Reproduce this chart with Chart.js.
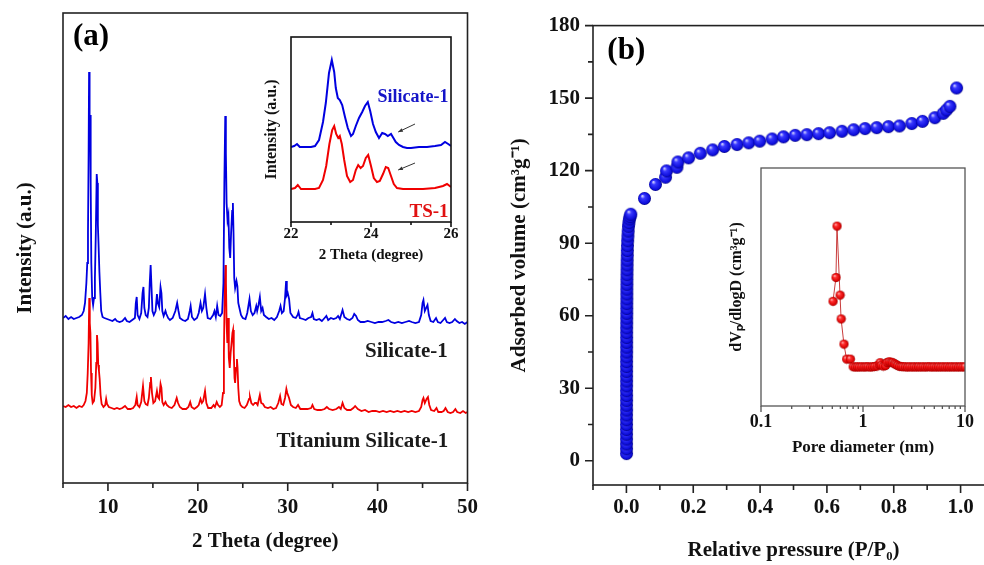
<!DOCTYPE html>
<html><head><meta charset="utf-8">
<script src="https://cdn.jsdelivr.net/npm/chart.js@4.4.1/dist/chart.umd.min.js"></script>
<style>
html,body{margin:0;padding:0;background:#fff;overflow:hidden;width:984px;height:565px;position:relative;}
.box{position:absolute;}
canvas{display:block;}
</style></head><body>
<div class="box" style="left:0;top:0;width:490px;height:565px"><canvas id="cA" width="490" height="565"></canvas></div>
<div class="box" style="left:250px;top:20px;width:230px;height:250px"><canvas id="cAi" width="230" height="250"></canvas></div>
<div class="box" style="left:490px;top:0;width:520px;height:565px"><canvas id="cB" width="520" height="565"></canvas></div>
<div class="box" style="left:700px;top:150px;width:284px;height:315px"><canvas id="cBi" width="284" height="315"></canvas></div>
<script>
// ---------------- DATA ----------------
// Panel (a): XRD patterns [2theta, intensity (arb.)]
const silicaliteXRD = [[5.0,165],[5.3,167],[5.6,164],[5.9,166],[6.2,164],[6.5,165],[6.8,166],[7.1,168],[7.3,172],[7.45,180],[7.6,200],[7.7,220],[7.78,250],[7.85,330],[7.9,411],[7.96,360],[8.02,368],[8.08,300],[8.15,220],[8.25,185],[8.35,178],[8.45,185],[8.55,205],[8.65,250],[8.75,309],[8.82,300],[8.88,258],[8.95,240],[9.05,211],[9.15,190],[9.25,172],[9.4,166],[9.6,165],[9.9,164],[10.2,163],[10.5,162],[10.8,164],[11.0,162],[11.3,161],[11.6,162],[11.9,165],[12.1,162],[12.4,161],[12.7,163],[13.0,165],[13.1,180],[13.2,186],[13.3,168],[13.5,164],[13.7,170],[13.85,190],[13.95,196],[14.05,175],[14.2,168],[14.4,166],[14.55,175],[14.65,200],[14.75,218],[14.85,195],[14.95,172],[15.1,168],[15.3,172],[15.45,189],[15.55,180],[15.7,176],[15.85,196],[15.95,190],[16.05,172],[16.2,167],[16.4,172],[16.5,169],[16.7,165],[16.9,163],[17.2,165],[17.5,172],[17.7,180],[17.85,172],[18.0,165],[18.3,163],[18.6,162],[18.9,164],[19.1,172],[19.2,177],[19.35,166],[19.6,163],[19.9,165],[20.1,170],[20.3,180],[20.45,172],[20.6,175],[20.8,189],[20.95,175],[21.1,165],[21.4,164],[21.7,168],[21.85,172],[22.0,166],[22.15,177],[22.3,168],[22.5,167],[22.7,170],[22.85,200],[22.95,300],[23.05,367],[23.12,330],[23.2,280],[23.3,263],[23.4,268],[23.5,235],[23.6,225],[23.7,250],[23.82,272],[23.9,280],[23.97,250],[24.05,205],[24.15,195],[24.3,202],[24.4,197],[24.5,180],[24.6,176],[24.8,168],[25.0,165],[25.3,164],[25.5,170],[25.75,184],[25.9,172],[26.1,168],[26.3,170],[26.5,177],[26.6,172],[26.75,178],[26.9,186],[27.05,172],[27.2,175],[27.35,168],[27.6,166],[27.9,164],[28.2,165],[28.5,163],[28.8,166],[29.05,172],[29.2,177],[29.35,170],[29.55,172],[29.7,185],[29.82,202],[29.9,188],[30.0,190],[30.15,184],[30.3,170],[30.6,166],[30.9,165],[31.1,168],[31.2,171],[31.35,165],[31.7,164],[32.0,163],[32.3,165],[32.6,166],[32.75,170],[32.9,164],[33.2,163],[33.5,164],[33.8,162],[34.1,165],[34.3,167],[34.5,163],[34.8,165],[35.1,164],[35.4,165],[35.6,167],[35.8,164],[36.0,170],[36.1,173],[36.3,166],[36.6,164],[36.9,163],[37.2,165],[37.4,169],[37.6,167],[37.8,163],[38.1,161],[38.5,161],[38.9,162],[39.3,161],[39.7,160],[40.1,161],[40.5,161],[40.9,162],[41.2,163],[41.5,161],[41.9,160],[42.3,161],[42.7,160],[43.1,161],[43.5,162],[43.8,161],[44.2,160],[44.6,161],[44.85,168],[45.0,180],[45.1,183],[45.25,172],[45.4,175],[45.55,178],[45.7,168],[45.9,162],[46.2,161],[46.5,165],[46.7,161],[47.0,160],[47.3,163],[47.5,165],[47.7,161],[48.0,160],[48.3,161],[48.6,164],[48.8,162],[49.1,160],[49.4,161],[49.7,159],[50.0,161]];
const ts1XRD = [[5.0,77],[5.3,76],[5.6,78],[5.9,76],[6.2,77],[6.5,75],[6.8,77],[7.1,76],[7.3,78],[7.5,82],[7.65,90],[7.75,110],[7.85,140],[7.92,185],[7.98,160],[8.05,150],[8.12,110],[8.2,88],[8.3,80],[8.45,82],[8.6,95],[8.7,120],[8.78,148],[8.85,140],[8.92,118],[9.0,112],[9.08,104],[9.18,88],[9.3,79],[9.5,76],[9.7,78],[9.8,84],[9.9,79],[10.1,76],[10.4,75],[10.7,74],[11.0,75],[11.3,74],[11.6,75],[11.9,77],[12.2,74],[12.5,74],[12.8,75],[13.05,78],[13.2,86],[13.3,78],[13.5,76],[13.7,81],[13.9,97],[14.05,82],[14.2,79],[14.4,78],[14.55,85],[14.7,100],[14.78,106],[14.9,90],[15.05,80],[15.25,82],[15.45,92],[15.55,86],[15.7,84],[15.85,99],[15.95,95],[16.05,81],[16.2,78],[16.4,81],[16.55,78],[16.8,76],[17.1,75],[17.4,78],[17.65,85],[17.8,80],[18.0,76],[18.3,74],[18.7,74],[18.95,76],[19.15,81],[19.3,76],[19.6,74],[19.9,76],[20.1,78],[20.3,84],[20.45,80],[20.6,82],[20.8,92],[20.95,80],[21.15,75],[21.5,75],[21.75,78],[21.9,76],[22.1,81],[22.25,78],[22.45,76],[22.65,78],[22.8,90],[22.9,130],[23.0,200],[23.07,218],[23.13,200],[23.2,160],[23.28,140],[23.36,165],[23.45,125],[23.55,115],[23.65,130],[23.75,140],[23.85,150],[23.92,153],[24.0,130],[24.08,105],[24.15,100],[24.25,115],[24.35,124],[24.42,115],[24.5,95],[24.6,82],[24.75,78],[24.95,76],[25.2,75],[25.45,78],[25.7,84],[25.8,86],[25.95,80],[26.15,78],[26.35,80],[26.5,80],[26.65,78],[26.8,84],[26.9,88],[27.05,80],[27.25,79],[27.45,76],[27.8,75],[28.1,76],[28.4,74],[28.7,75],[28.95,80],[29.15,87],[29.3,79],[29.5,78],[29.7,85],[29.85,94],[29.95,90],[30.15,85],[30.35,78],[30.6,76],[30.9,75],[31.15,78],[31.4,74],[31.8,74],[32.2,74],[32.6,75],[32.75,78],[32.95,74],[33.3,73],[33.7,73],[34.1,74],[34.35,76],[34.6,74],[35.0,73],[35.4,74],[35.7,76],[35.9,74],[36.1,80],[36.3,75],[36.6,73],[37.0,73],[37.3,75],[37.5,77],[37.8,74],[38.2,72],[38.6,73],[39.0,71],[39.4,72],[39.8,72],[40.2,71],[40.6,72],[41.0,71],[41.4,72],[41.8,71],[42.2,72],[42.6,71],[43.0,72],[43.4,71],[43.8,72],[44.2,71],[44.6,72],[44.85,76],[45.0,83],[45.1,85],[45.25,80],[45.45,84],[45.6,86],[45.75,78],[45.95,73],[46.3,72],[46.55,75],[46.75,71],[47.1,71],[47.35,72],[47.55,75],[47.8,71],[48.1,70],[48.4,71],[48.65,74],[48.85,71],[49.2,70],[49.5,72],[49.8,70],[50.0,71]];
const xTicksA = [10,20,30,40,50];
const xMinorA = [5,15,25,35,45];

// Inset of (a): 22-26 degree zoom
const silicaliteZoom = [[22.0,75],[22.08,76],[22.15,78],[22.22,75],[22.3,75],[22.4,75],[22.5,75],[22.6,76],[22.7,82],[22.8,100],[22.87,119],[22.95,149],[23.02,162],[23.08,150],[23.12,134],[23.17,124],[23.22,122],[23.28,117],[23.35,105],[23.42,94],[23.5,86],[23.55,88],[23.62,96],[23.7,104],[23.78,110],[23.85,116],[23.92,120],[23.98,111],[24.05,98],[24.12,90],[24.2,84],[24.28,89],[24.35,88],[24.42,86],[24.5,88],[24.56,84],[24.62,80],[24.7,77],[24.8,75],[24.9,74],[25.0,74],[25.2,75],[25.4,75],[25.6,76],[25.75,77],[25.85,80],[25.93,78],[26.0,76]];
const ts1Zoom = [[22.0,33],[22.1,34],[22.17,37],[22.25,33],[22.4,33],[22.6,33],[22.7,34],[22.8,42],[22.88,56],[22.96,78],[23.03,92],[23.08,96],[23.13,88],[23.18,84],[23.22,86],[23.27,78],[23.33,62],[23.4,46],[23.48,40],[23.55,42],[23.62,52],[23.68,57],[23.74,54],[23.8,56],[23.87,64],[23.93,67],[24.0,56],[24.07,44],[24.15,40],[24.22,41],[24.3,48],[24.37,55],[24.43,54],[24.5,46],[24.57,38],[24.65,34],[24.8,33],[25.0,33],[25.3,33],[25.6,34],[25.8,36],[25.9,38],[26.0,35]];
const xTicksAi = [22,24,26];
const xMinorAi = [23,25];

// Panel (b): N2 isotherm [P/P0, adsorbed volume cm3/g]
const isoP = [0.0003,0.0003,0.0004,0.0003,0.0004,0.0004,0.0003,0.0004,0.0004,0.0005,0.0004,0.0005,0.0005,0.0004,0.0005,0.0005,0.0006,0.0005,0.0006,0.0006,0.0006,0.0007,0.0007,0.0007,0.0008,0.0008,0.0008,0.0009,0.0009,0.001,0.001,0.0011,0.0012,0.0012,0.0013,0.0014,0.0015,0.0016,0.0018,0.002,0.0022,0.0025,0.0028,0.0032,0.0037,0.0044,0.0052,0.0062,0.0075,0.009,0.011,0.013,
  0.054,0.087,0.117,0.120,0.151,0.154,0.186,0.221,0.258,0.293,0.331,0.366,0.399,0.436,0.470,0.505,0.540,0.575,0.608,0.645,0.680,0.714,0.749,0.784,0.817,0.854,0.886,0.923,0.948,0.958,0.968,0.988];
const isoV = [3,5,7,9,11,13,15,17,19,21,23,25,27,29,31,33,35,37,39,41,43,45,47,49,51,53,55,57,59,61,63,65,67,69,71,73,75,77,79,81,83,85,87,89,91,93,95,97,98.5,100,101,102,
  108.5,114.3,117.3,119.9,121.4,123.6,125.3,127.2,128.6,130.0,130.8,131.5,132.2,133.1,134.0,134.6,134.9,135.3,135.7,136.3,136.9,137.4,137.8,138.2,138.5,139.5,140.4,141.9,143.7,145.1,146.6,154.2];
const xTicksB = [0,0.2,0.4,0.6,0.8,1.0];
const xTickLabelsB = ['0.0','0.2','0.4','0.6','0.8','1.0'];
const xMinorB = [-0.1,0.1,0.3,0.5,0.7,0.9,1.1];
const yTicksB = [0,30,60,90,120,150,180];
const yTickLabelsB = ['0','30','60','90','120','150','180'];
const yMinorB = [15,45,75,105,135,165];

// Inset of (b): pore size distribution [pore diameter nm, dVp/dlogD arb.]
const poreD = [0.508,0.543,0.556,0.595,0.61,0.65,0.69,0.75,0.80,0.84,0.88,0.92,0.97,1.02,1.07,1.12,1.18,1.24,1.30,1.37,1.44,1.47,1.51,1.58,1.66,1.72,1.80,1.88,1.95,2.03,2.10,2.18,2.27,2.37,2.47,2.60,2.73,2.87,3.02,3.17,3.33,3.50,3.68,3.87,4.07,4.28,4.50,4.73,4.97,5.22,5.49,5.77,6.07,6.38,6.70,7.05,7.41,7.79,8.19,8.61,9.05,9.51,10.0];
const poreV = [44,54,75.6,46.6,36.6,26,19.7,19.7,16.5,16.4,16.5,16.4,16.5,16.4,16.5,16.5,16.4,16.5,16.6,16.8,17.4,18.2,17.2,16.8,17.0,18.3,18.6,18.4,18.2,17.8,17.4,17.0,16.7,16.6,16.5,16.5,16.4,16.5,16.4,16.5,16.4,16.5,16.4,16.5,16.4,16.5,16.5,16.4,16.5,16.4,16.5,16.4,16.5,16.4,16.5,16.4,16.5,16.4,16.5,16.4,16.5,16.4,16.5];
const xTicksBi = [0.1,1,10];
const xTickLabelsBi = ['0.1','1','10'];
const xMinorBi = [0.2,0.3,0.4,0.5,0.6,0.7,0.8,0.9,2,3,4,5,6,7,8,9];

// ---------------- HELPERS ----------------
const FF = '"Liberation Serif","Times New Roman",serif';
const font = (s)=>({family:FF, size:s, weight:'bold'});
const INK = '#111';

function sphere(r, c0, c1, c2, c3){
  const s = 2*r+2, cv = document.createElement('canvas');
  cv.width = cv.height = s;
  const g = cv.getContext('2d'), c = s/2;
  const gr = g.createRadialGradient(c-r*0.35, c-r*0.4, r*0.05, c, c, r);
  gr.addColorStop(0,c0); gr.addColorStop(0.3,c1); gr.addColorStop(0.85,c2); gr.addColorStop(1,c3);
  g.fillStyle = gr; g.beginPath(); g.arc(c,c,r,0,Math.PI*2); g.fill();
  return cv;
}
const blueBall = sphere(6.5,'#d0d0ff','#3838ff','#0c0cd8','#00007e');
const redBall = sphere(4.6,'#ffc0c0','#ff3030','#d80000','#880000');

function framePlugin(o){
  return {id:'frame', afterDraw(chart){
    const {ctx, chartArea:a} = chart, sx = chart.scales.x, sy = chart.scales.y;
    ctx.save();
    ctx.strokeStyle = o.color; ctx.lineWidth = o.lw;
    ctx.strokeRect(a.left, a.top, a.right-a.left, a.bottom-a.top);
    ctx.beginPath();
    const xt = (vals,len)=>vals.forEach(v=>{const p=sx.getPixelForValue(v); if(p<a.left-0.5||p>a.right+0.5)return; ctx.moveTo(p,a.bottom); ctx.lineTo(p,a.bottom+len);});
    const yt = (vals,len)=>vals.forEach(v=>{const p=sy.getPixelForValue(v); ctx.moveTo(a.left,p); ctx.lineTo(a.left-len,p);});
    xt(o.xMajor||[],o.maj); xt(o.xMinor||[],o.min);
    yt(o.yMajor||[],o.maj); yt(o.yMinor||[],o.min);
    ctx.stroke();
    ctx.restore();
  }};
}
function textPlugin(items){
  return {id:'txt', afterDraw(chart){
    const ctx = chart.ctx, sx = chart.scales.x, sy = chart.scales.y;
    items.forEach(it=>{
      ctx.save(); ctx.font = it.font; ctx.fillStyle = it.color;
      ctx.textAlign = it.align||'center'; ctx.textBaseline = 'middle';
      ctx.fillText(it.text, sx.getPixelForValue(it.x), sy.getPixelForValue(it.y));
      ctx.restore();
    });
  }};
}
function arrowPlugin(arrows){
  return {id:'arrows', afterDraw(chart){
    const ctx = chart.ctx, sx = chart.scales.x, sy = chart.scales.y;
    arrows.forEach(ar=>{
      const x1=sx.getPixelForValue(ar.from[0]), y1=sy.getPixelForValue(ar.from[1]);
      const x2=sx.getPixelForValue(ar.to[0]), y2=sy.getPixelForValue(ar.to[1]);
      const ang=Math.atan2(y2-y1,x2-x1), h=5;
      ctx.save(); ctx.strokeStyle='#333'; ctx.fillStyle='#333'; ctx.lineWidth=1;
      ctx.beginPath(); ctx.moveTo(x1,y1); ctx.lineTo(x2,y2); ctx.stroke();
      ctx.beginPath(); ctx.moveTo(x2,y2);
      ctx.lineTo(x2-h*Math.cos(ang-0.4), y2-h*Math.sin(ang-0.4));
      ctx.lineTo(x2-h*Math.cos(ang+0.4), y2-h*Math.sin(ang+0.4));
      ctx.closePath(); ctx.fill(); ctx.restore();
    });
  }};
}
const noGrid = {display:true, drawOnChartArea:false, drawTicks:false};
const baseOpts = {responsive:false, animation:false, devicePixelRatio:1,
  plugins:{legend:{display:false}, tooltip:{enabled:false}}};
const pts = (arr)=>arr.map(([x,y])=>({x,y}));

// ---------------- PANEL (a) ----------------
new Chart(document.getElementById('cA'), {
  type:'line',
  data:{datasets:[
    {data:pts(silicaliteXRD), borderColor:'#0000e0', borderWidth:1.8, pointRadius:0, tension:0},
    {data:pts(ts1XRD), borderColor:'#f00000', borderWidth:1.8, pointRadius:0, tension:0}
  ]},
  options:{...baseOpts,
    layout:{padding:{top:13,right:22,left:0,bottom:0}},
    scales:{
      x:{type:'linear', min:5, max:50,
        afterBuildTicks(s){s.ticks = xTicksA.map(v=>({value:v}));},
        afterFit(s){s.height = 82;},
        ticks:{font:font(21), color:INK, padding:12, maxRotation:0, autoSkip:false},
        grid:noGrid, border:{display:false},
        title:{display:true, text:'2 Theta (degree)', font:font(21), color:INK, padding:{top:0,bottom:11}}},
      y:{type:'linear', min:0, max:470,
        afterFit(s){s.width = 63;},
        ticks:{display:false}, grid:noGrid, border:{display:false},
        title:{display:true, text:'Intensity (a.u.)', font:font(21), color:INK, padding:{top:13,bottom:0}}}
    }
  },
  plugins:[
    framePlugin({color:'#222', lw:1.6, xMajor:xTicksA, xMinor:xMinorA, maj:8, min:5}),
    textPlugin([
      {text:'(a)', x:6.1, y:446, font:'bold 31px '+FF, color:'#000', align:'left'},
      {text:'Silicate-1', x:43.2, y:131, font:'bold 21px '+FF, color:'#1a1a1a'},
      {text:'Titanium Silicate-1', x:38.3, y:41, font:'bold 21px '+FF, color:'#1a1a1a'}
    ])
  ]
});

// ---------------- INSET of (a) ----------------
new Chart(document.getElementById('cAi'), {
  type:'line',
  data:{datasets:[
    {data:pts(silicaliteZoom), borderColor:'#0000e0', borderWidth:2, pointRadius:0, tension:0},
    {data:pts(ts1Zoom), borderColor:'#f00000', borderWidth:2, pointRadius:0, tension:0}
  ]},
  options:{...baseOpts,
    layout:{padding:{top:17,right:29,left:0,bottom:0}},
    scales:{
      x:{type:'linear', min:22, max:26,
        afterBuildTicks(s){s.ticks = xTicksAi.map(v=>({value:v}));},
        afterFit(s){s.height = 48;},
        ticks:{font:font(15), color:INK, padding:3, maxRotation:0, autoSkip:false},
        grid:noGrid, border:{display:false},
        title:{display:true, text:'2 Theta (degree)', font:font(15), color:INK, padding:{top:0,bottom:6}}},
      y:{type:'linear', min:0, max:185,
        afterFit(s){s.width = 41;},
        ticks:{display:false}, grid:noGrid, border:{display:false},
        title:{display:true, text:'Intensity (a.u.)', font:font(16), color:INK, padding:{top:12,bottom:0}}}
    }
  },
  plugins:[
    framePlugin({color:'#111', lw:1.6, xMajor:xTicksAi, xMinor:xMinorAi, maj:5, min:3}),
    textPlugin([
      {text:'Silicate-1', x:25.05, y:125, font:'bold 18px '+FF, color:'#1414c8'},
      {text:'TS-1', x:25.45, y:10, font:'bold 19px '+FF, color:'#e01010'}
    ]),
    arrowPlugin([
      {from:[25.1,98], to:[24.68,90]},
      {from:[25.1,59], to:[24.68,52]}
    ])
  ]
});

// ---------------- PANEL (b) ----------------
new Chart(document.getElementById('cB'), {
  type:'scatter',
  data:{datasets:[
    {data:isoP.map((p,i)=>({x:p, y:isoV[i]})), pointStyle:blueBall, pointRadius:6.5, showLine:false}
  ]},
  options:{...baseOpts,
    layout:{padding:{top:19,right:16,left:0,bottom:0}},
    scales:{
      x:{type:'linear', min:-0.1, max:1.1,
        afterBuildTicks(s){s.ticks = xTicksB.map(v=>({value:v}));},
        afterFit(s){s.height = 80;},
        ticks:{font:font(21), color:INK, padding:10, maxRotation:0, autoSkip:false, callback:(v,i)=>xTickLabelsB[i]},
        grid:noGrid, border:{display:false},
        title:{display:true, text:'Relative pressure (P/P₀)', font:font(21), color:INK, padding:{top:0,bottom:2}}},
      y:{type:'linear', min:-10, max:180,
        afterBuildTicks(s){s.ticks = yTicksB.map(v=>({value:v}));},
        afterFit(s){s.width = 103;},
        ticks:{font:font(21), color:INK, padding:13, autoSkip:false, callback:(v,i)=>yTickLabelsB[i]},
        grid:noGrid, border:{display:false},
        title:{display:true, text:'Adsorbed volume (cm³g⁻¹)', font:font(21), color:INK, padding:{top:17,bottom:0}}}
    }
  },
  plugins:[
    framePlugin({color:'#222', lw:1.6, xMajor:xTicksB, xMinor:xMinorB, yMajor:yTicksB, yMinor:yMinorB, maj:8, min:5}),
    textPlugin([
      {text:'(b)', x:-0.057, y:169.5, font:'bold 31px '+FF, color:'#000', align:'left'}
    ])
  ]
});

// ---------------- INSET of (b) ----------------
new Chart(document.getElementById('cBi'), {
  type:'scatter',
  data:{datasets:[
    {data:poreD.map((d,i)=>({x:d, y:poreV[i]})), pointStyle:redBall, pointRadius:4.6, showLine:true,
     borderColor:'#c83c3c', borderWidth:1, tension:0}
  ]},
  options:{...baseOpts,
    layout:{padding:{top:18,right:19,left:0,bottom:0}},
    scales:{
      x:{type:'logarithmic', min:0.1, max:10,
        afterBuildTicks(s){s.ticks = xTicksBi.map(v=>({value:v}));},
        afterFit(s){s.height = 59;},
        ticks:{font:font(18), color:INK, padding:6, maxRotation:0, autoSkip:false, callback:(v,i)=>xTickLabelsBi[i]},
        grid:noGrid, border:{display:false},
        title:{display:true, text:'Pore diameter (nm)', font:font(17), color:INK, padding:{top:0,bottom:7}}},
      y:{type:'linear', min:0, max:100,
        afterFit(s){s.width = 61;},
        ticks:{display:false}, grid:noGrid, border:{display:false},
        title:{display:true, text:'dVₚ/dlogD (cm³g⁻¹)', font:font(16), color:INK, padding:{top:27,bottom:0}}}
    }
  },
  plugins:[
    framePlugin({color:'#555', lw:1.3, xMajor:xTicksBi, xMinor:xMinorBi, maj:6, min:3})
  ]
});
</script>
</body></html>
